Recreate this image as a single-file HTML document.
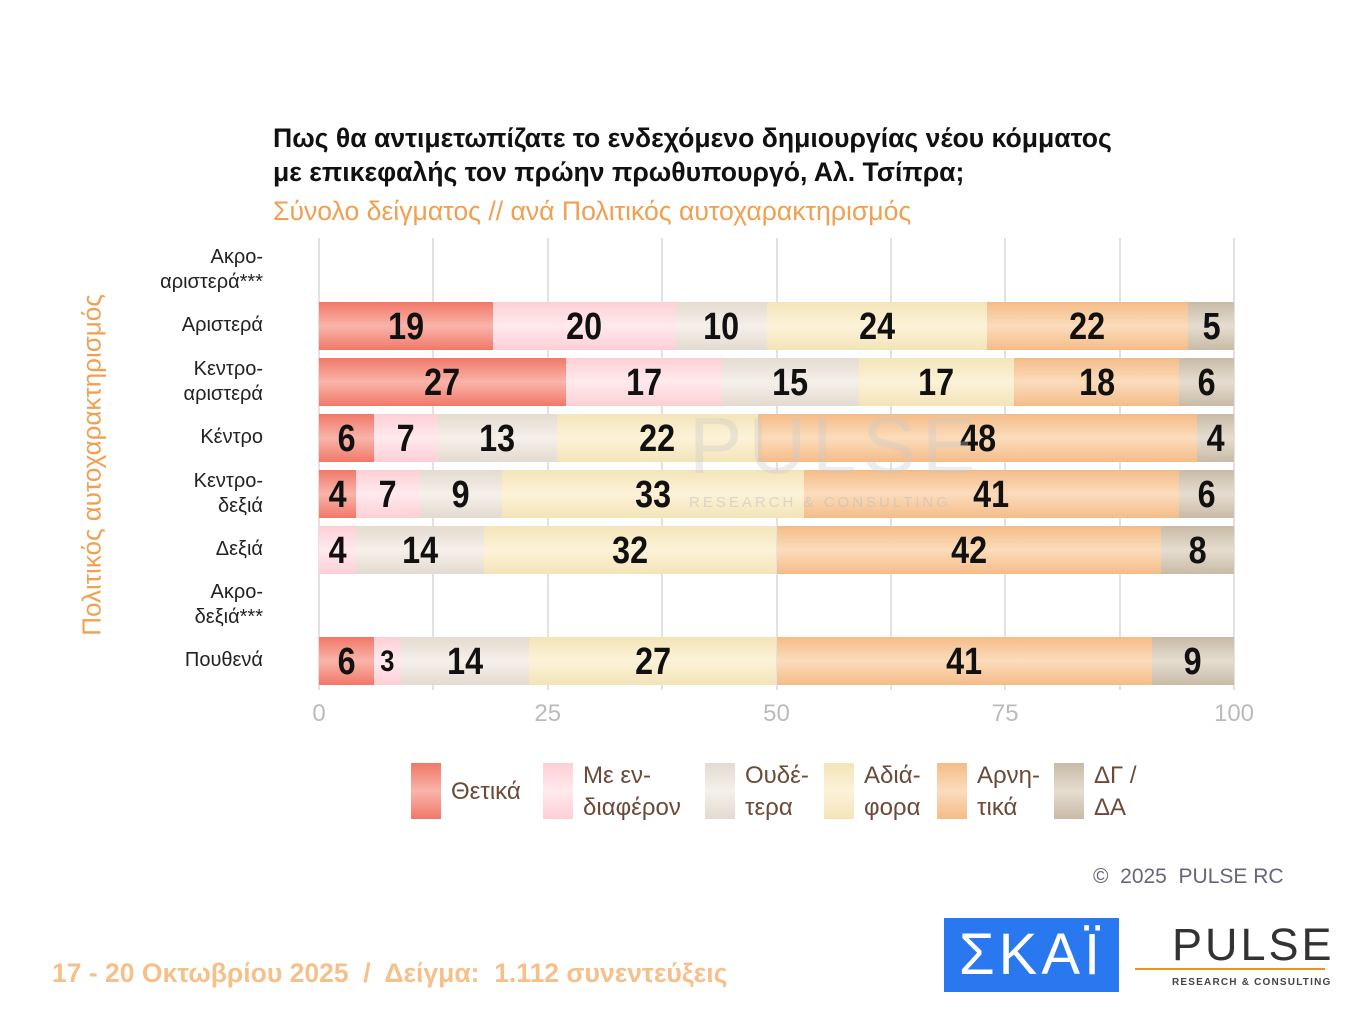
<!DOCTYPE html>
<html><head><meta charset="utf-8"><style>
body{margin:0;width:1360px;height:1020px;background:#fff;position:relative;overflow:hidden;font-family:"Liberation Sans","DejaVu Sans",sans-serif}
.a{position:absolute}
.t{font-weight:bold;font-size:26.6px;color:#111;white-space:nowrap}
.seg{position:absolute;height:48px}
.num{position:absolute;top:0;height:48px;line-height:50px;text-align:center;font-weight:bold;font-size:38px;color:#111}
.num span{display:inline-block;transform:scaleX(.85)}
.rl{position:absolute;right:1097px;text-align:right;font-size:20px;color:#222;line-height:25px;white-space:nowrap}
.g{position:absolute;top:238px;height:452px;width:2px;background:#e2e2e2}
.tk{position:absolute;top:700px;font-size:24px;color:#bbb;width:60px;text-align:center}
.lg{position:absolute;top:763px;width:30px;height:56px}
.lt{position:absolute;top:760px;font-size:24px;color:#6b4a3a;line-height:32px}
</style></head><body>
<div class="a t" style="left:273px;top:123px">Πως θα αντιμετωπίζατε το ενδεχόμενο δημιουργίας νέου κόμματος</div>
<div class="a t" style="left:273px;top:157px">με επικεφαλής τον πρώην πρωθυπουργό, Αλ. Τσίπρα;</div>
<div class="a" style="left:273px;top:196px;font-size:26.6px;color:#f0a050;white-space:nowrap">Σύνολο δείγματος // ανά Πολιτικός αυτοχαρακτηρισμός</div>
<div class="a" style="left:92px;top:465px;font-size:26px;color:#f0a050;transform:translate(-50%,-50%) rotate(-90deg);white-space:nowrap">Πολιτικός αυτοχαρακτηρισμός</div>
<div id="c"></div>
<div class="a" style="left:689px;top:400px;font-size:80px;color:rgba(200,200,200,.35);letter-spacing:6px">PULSE</div>
<div class="a" style="left:689px;top:494px;font-size:15px;color:rgba(190,190,190,.5);letter-spacing:3px">RESEARCH &amp; CONSULTING</div>
<div class="a" style="left:1093px;top:865px;font-size:21px;color:#667">©&nbsp; 2025&nbsp; PULSE RC</div>
<div class="a" style="left:944px;top:918px;width:175px;height:74px;background:#2a78f0;color:#fff;font-size:58px;line-height:74px;text-align:center;letter-spacing:4px">ΣΚΑΪ</div>
<div class="a" style="left:1172px;top:920px;font-size:45px;color:#333;letter-spacing:3px;line-height:50px">PULSE</div>
<div class="a" style="left:1135px;top:968px;width:190px;height:2px;background:#f0901e"></div>
<div class="a" style="left:1172px;top:977px;font-size:10px;color:#444;letter-spacing:1.2px;font-weight:bold">RESEARCH &amp; CONSULTING</div>
<div class="a" style="left:52px;top:958px;font-size:26.5px;font-weight:bold;color:#f5c08a;white-space:nowrap">17 - 20 Οκτωβρίου 2025&nbsp; /&nbsp; Δείγμα:&nbsp; 1.112 συνεντεύξεις</div>
<script>
var cols=[["#f07868","#f9b4aa"],["#fdcfd5","#ffeaee"],["#e4dbd0","#f5f0ea"],["#f3e4b8","#fcf2d8"],["#f4bc88","#fbdcbc"],["#c8baa6","#e6ddd0"]];
function gr(c){return "linear-gradient(to bottom,"+c[0]+","+c[1]+" 50%,"+c[0]+")"}
var h="";
for(var i=0;i<9;i++)h+='<div class="g" style="left:'+(318+i*114.4)+'px"></div>';
[0,25,50,75,100].forEach(function(v){h+='<div class="tk" style="left:'+(319+v*9.15-30)+'px">'+v+'</div>'});
var rows=[["Ακρο-<br>αριστερά***",null],["Αριστερά",[19,20,10,24,22,5]],["Κεντρο-<br>αριστερά",[27,17,15,17,18,6]],["Κέντρο",[6,7,13,22,48,4]],["Κεντρο-<br>δεξιά",[4,7,9,33,41,6]],["Δεξιά",[0,4,14,32,42,8]],["Ακρο-<br>δεξιά***",null],["Πουθενά",[6,3,14,27,41,9]]];
rows.forEach(function(r,i){var cy=270+i*55.9;var two=r[0].indexOf("<br>")>0;
h+='<div class="rl" style="top:'+(cy-(two?25:13))+'px">'+r[0]+'</div>';
if(!r[1])return;var x=319;
r[1].forEach(function(v,j){if(!v)return;var w=v*9.15;
h+='<div class="seg" style="left:'+x+'px;top:'+(cy-24)+'px;width:'+w+'px;background:'+gr(cols[j])+'"><div class="num" style="left:0;width:'+w+'px;'+(v<4?'font-size:30px':'')+'"><span>'+v+'</span></div></div>';x+=w;});});
var lg=[[411,"Θετικά",""],[543,"Με εν-","διαφέρον"],[705,"Ουδέ-","τερα"],[824,"Αδιά-","φορα"],[937,"Αρνη-","τικά"],[1054,"ΔΓ /","ΔΑ"]];
lg.forEach(function(l,j){h+='<div class="lg" style="left:'+l[0]+'px;background:'+gr(cols[j])+'"></div>';
h+='<div class="lt" style="left:'+(l[0]+40)+'px;'+(l[2]?'':'top:776px')+'">'+l[1]+(l[2]?'<br>'+l[2]:'')+'</div>'});
document.getElementById("c").innerHTML=h;
</script>
</body></html>
